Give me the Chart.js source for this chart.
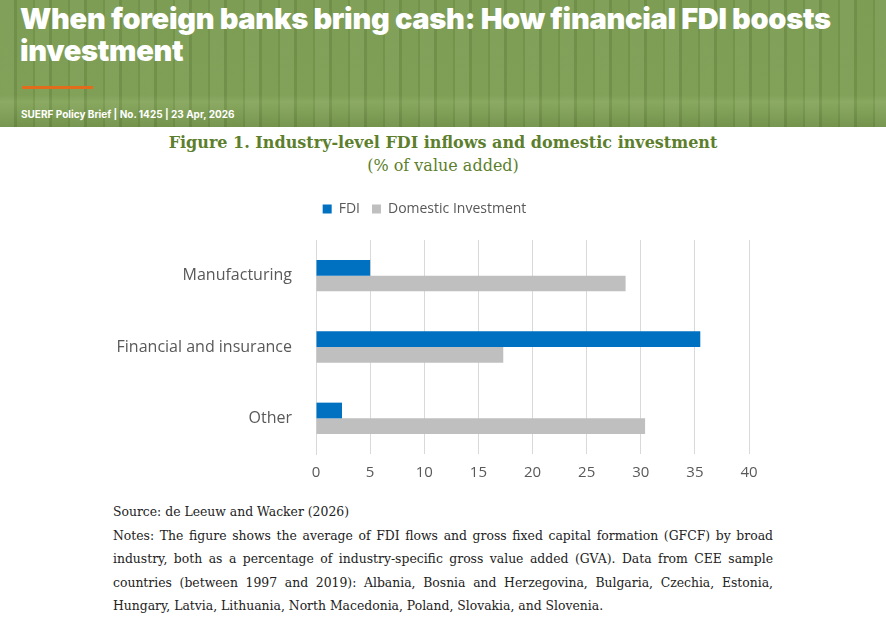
<!DOCTYPE html>
<html>
<head>
<meta charset="utf-8">
<script src="https://cdn.jsdelivr.net/npm/chart.js@4"></script>
<style>
  body { margin: 0; width: 886px; height: 624px; background: #fff; position: relative; overflow: hidden; }
  .header {
    position: absolute; left: 0; top: 0; width: 886px; height: 127px;
    background:
      repeating-linear-gradient(90deg, rgba(255,255,255,0.06) 0 14px, rgba(0,0,0,0.07) 14px 17px, rgba(255,255,255,0.03) 17px 33px, rgba(0,0,0,0.05) 33px 35px),
      linear-gradient(180deg, #799a4f 0%, #7a9c50 75%, #85a55a 80%, #6f9046 100%);
  }
  .header h1 {
    position: absolute; left: 20px; top: 3px; margin: 0; width: 860px;
    font-family: "Inter", "Roboto", sans-serif; font-weight: 900; font-size: 29px; line-height: 32px;
    color: #fff; letter-spacing: -0.3px;
  }
  .bar { position: absolute; left: 22px; top: 86px; width: 71px; height: 3px; background: #e36c1c; }
  .brief { position: absolute; left: 21px; top: 108px; font-family: "Inter", sans-serif; font-weight: 700; font-size: 10px; color: #fff; }
  .ftitle { position: absolute; left: 0; width: 886px; text-align: center; font-family: "DejaVu Serif", "Liberation Serif", serif; color: #5d7f2d; }
  .notes {
    position: absolute; left: 113px; top: 500px; width: 660px;
    font-family: "DejaVu Serif", "Liberation Serif", serif; font-size: 12.4px; line-height: 23.5px; color: #222;
    text-align: justify;
  }
  #wrap { position: absolute; left: 100px; top: 190px; width: 670px; height: 302px; }
</style>
</head>
<body>
<div class="header">
  <h1>When foreign banks bring cash: How financial FDI boosts investment</h1>
  <div class="bar"></div>
  <div class="brief">SUERF Policy Brief | No. 1425 | 23 Apr, 2026</div>
</div>
<div class="ftitle" style="top:133px;font-size:16px;font-weight:bold;">Figure 1. Industry-level FDI inflows and domestic investment</div>
<div class="ftitle" style="top:156px;font-size:16px;">(% of value added)</div>
<div id="wrap"><canvas id="chart"></canvas></div>
<div class="notes">
  Source: de Leeuw and Wacker (2026)<br>
  Notes: The figure shows the average of FDI flows and gross fixed capital formation (GFCF) by broad industry, both as a percentage of industry-specific gross value added (GVA). Data from CEE sample countries (between 1997 and 2019): Albania, Bosnia and Herzegovina, Bulgaria, Czechia, Estonia, Hungary, Latvia, Lithuania, North Macedonia, Poland, Slovakia, and Slovenia.
</div>
<script>
const categories = ['Manufacturing', 'Financial and insurance', 'Other'];
const fdiValues = [5.0, 35.5, 2.4];
const domesticValues = [28.6, 17.3, 30.4];
const xTicks = [0, 5, 10, 15, 20, 25, 30, 35, 40];

// extra room between legend and plot
const legendGap = {
  id: 'legendGap',
  beforeInit(chart) {
    const fit = chart.legend.fit;
    chart.legend.fit = function() {
      fit.bind(chart.legend)();
      this.height += 14;
    };
  }
};

const ctx = document.getElementById('chart').getContext('2d');
new Chart(ctx, {
  type: 'bar',
  data: {
    labels: categories,
    datasets: [
      { label: 'FDI', data: fdiValues, backgroundColor: '#0070c0', categoryPercentage: 0.44, barPercentage: 1 },
      { label: 'Domestic Investment', data: domesticValues, backgroundColor: '#bfbfbf', categoryPercentage: 0.44, barPercentage: 1 }
    ]
  },
  options: {
    indexAxis: 'y',
    responsive: true,
    maintainAspectRatio: false,
    animation: false,
    layout: { padding: { right: 21, top: 0, bottom: 0 } },
    scales: {
      x: {
        min: 0, max: 40,
        afterBuildTicks: axis => { axis.ticks = xTicks.map(v => ({ value: v })); },
        grid: { color: '#d9d9d9', drawTicks: false },
        border: { display: false },
        ticks: { color: '#595959', font: { family: 'Open Sans', size: 15 }, padding: 10 }
      },
      y: {
        afterFit: axis => { axis.width = 216; },
        grid: { display: false },
        border: { color: '#d9d9d9' },
        ticks: { color: '#595959', font: { family: 'Open Sans', size: 16 }, padding: 16 }
      }
    },
    plugins: {
      legend: {
        position: 'top',
        labels: { boxWidth: 9, boxHeight: 9, color: '#595959', font: { family: 'Open Sans', size: 14 }, padding: 12 }
      },
      tooltip: { enabled: false }
    }
  },
  plugins: [legendGap]
});
</script>
</body>
</html>
